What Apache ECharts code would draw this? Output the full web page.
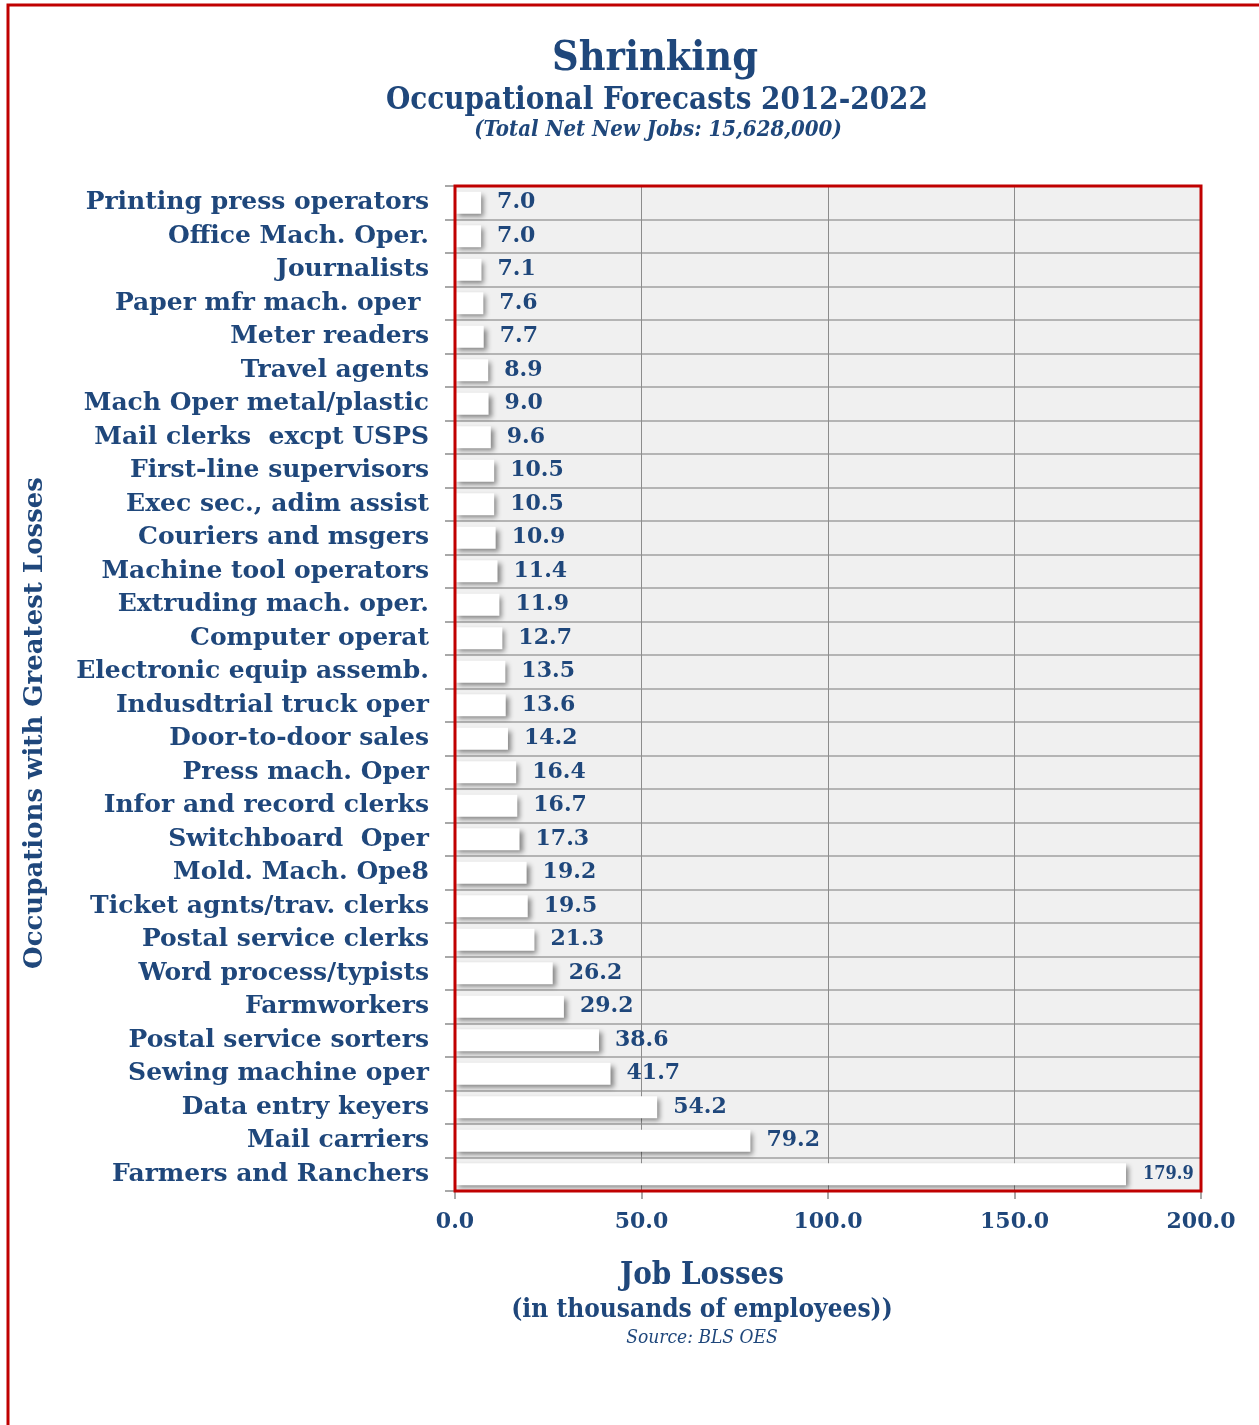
<!DOCTYPE html>
<html>
<head>
<meta charset="utf-8">
<title>Shrinking - Occupational Forecasts 2012-2022</title>
<script src="https://cdn.jsdelivr.net/npm/echarts@6/dist/echarts.min.js"></script>
<style>
  html, body { margin: 0; padding: 0; background: #ffffff; }
  #chart { width: 1259px; height: 1425px; }
</style>
</head>
<body>
<div id="chart"></div>
<script>
// Occupations with the largest projected job losses, top to bottom
const occupations = [
  'Printing press operators', 'Office Mach. Oper.', 'Journalists', 'Paper mfr mach. oper ',
  'Meter readers', 'Travel agents', 'Mach Oper metal/plastic', 'Mail clerks  excpt USPS',
  'First-line supervisors', 'Exec sec., adim assist', 'Couriers and msgers', 'Machine tool operators',
  'Extruding mach. oper.', 'Computer operat', 'Electronic equip assemb.', 'Indusdtrial truck oper',
  'Door-to-door sales', 'Press mach. Oper', 'Infor and record clerks', 'Switchboard  Oper',
  'Mold. Mach. Ope8', 'Ticket agnts/trav. clerks', 'Postal service clerks', 'Word process/typists',
  'Farmworkers', 'Postal service sorters', 'Sewing machine oper', 'Data entry keyers',
  'Mail carriers', 'Farmers and Ranchers'
];

// Job losses, thousands of employees
const jobLosses = [
  7.0, 7.0, 7.1, 7.6, 7.7, 8.9, 9.0, 9.6, 10.5, 10.5,
  10.9, 11.4, 11.9, 12.7, 13.5, 13.6, 14.2, 16.4, 16.7, 17.3,
  19.2, 19.5, 21.3, 26.2, 29.2, 38.6, 41.7, 54.2, 79.2, 179.9
];

const axisMin = 0, axisMax = 200, axisStep = 50;

const NAVY = '#1f477b';
const RED = '#c00000';
const SLAB = '"DejaVu Serif", serif';
const SLAB_C = '"DejaVu Serif Condensed", "DejaVu Serif", serif';

const G = { left: 455, top: 186, right: 1201, bottom: 1191 };

const chart = echarts.init(document.getElementById('chart'), null, { renderer: 'canvas' });

const barData = jobLosses.map((v, i) => {
  const item = { value: v };
  if (i === jobLosses.length - 1) {
    item.label = { fontSize: 18, fontFamily: SLAB_C, distance: 17 };
  }
  return item;
});

chart.setOption({
  animation: false,
  backgroundColor: '#ffffff',
  title: [
    { text: 'Shrinking', left: 650, top: 34, textAlign: 'center',
      textStyle: { fontFamily: SLAB_C, fontWeight: 'bold', fontSize: 41, color: NAVY } },
    { text: 'Occupational Forecasts 2012-2022', left: 652, top: 80, textAlign: 'center',
      textStyle: { fontFamily: SLAB_C, fontWeight: 'bold', fontSize: 31, color: NAVY } },
    { text: '(Total Net New Jobs: 15,628,000)', left: 653, top: 114, textAlign: 'center',
      textStyle: { fontFamily: SLAB_C, fontWeight: 'bold', fontStyle: 'italic', fontSize: 22, color: NAVY } },
    { text: 'Job Losses', left: 697, top: 1255, textAlign: 'center',
      textStyle: { fontFamily: SLAB_C, fontWeight: 'bold', fontSize: 31, color: NAVY } },
    { text: '(in thousands of employees))', left: 697, top: 1292, textAlign: 'center',
      textStyle: { fontFamily: SLAB_C, fontWeight: 'bold', fontSize: 26, color: NAVY } },
    { text: 'Source: BLS OES', left: 697, top: 1324, textAlign: 'center',
      textStyle: { fontFamily: SLAB_C, fontWeight: 'normal', fontStyle: 'italic', fontSize: 19, color: NAVY } }
  ],
  grid: {
    left: G.left, top: G.top, width: G.right - G.left, height: G.bottom - G.top,
    show: true, backgroundColor: '#f0f0f0', borderWidth: 0, containLabel: false
  },
  xAxis: {
    type: 'value', min: axisMin, max: axisMax, interval: axisStep,
    axisLine: { show: false },
    axisTick: { show: true, length: 8, lineStyle: { color: '#8c8c8c', width: 1.5 } },
    axisLabel: {
      margin: 20, color: NAVY, fontFamily: SLAB, fontWeight: 'bold', fontSize: 22,
      formatter: v => v.toFixed(1)
    },
    splitLine: { show: true, lineStyle: { color: '#8c8c8c', width: 1 } }
  },
  yAxis: {
    type: 'category', data: occupations, inverse: true,
    axisLine: { show: false },
    axisTick: { show: true, length: 10, lineStyle: { color: '#8c8c8c', width: 1.5 } },
    axisLabel: {
      margin: 26, color: NAVY, fontFamily: SLAB, fontWeight: 'bold', fontSize: 25,
      padding: [4, 0, 0, 0]
    },
    splitLine: { show: true, lineStyle: { color: '#a0a0a0', width: 1.5 } }
  },
  series: [{
    type: 'bar', data: barData, barWidth: 22,
    itemStyle: {
      color: '#ffffff', shadowColor: 'rgba(0,0,0,0.45)',
      shadowBlur: 5, shadowOffsetX: 3, shadowOffsetY: 3
    },
    label: {
      show: true, position: 'right', distance: 16, color: NAVY,
      fontFamily: SLAB, fontWeight: 'bold', fontSize: 22,
      padding: [6, 0, 0, 0],
      formatter: p => p.value.toFixed(1)
    }
  }],
  graphic: [
    { type: 'rect', z: 100, silent: true,
      shape: { x: G.left, y: G.top, width: G.right - G.left, height: G.bottom - G.top },
      style: { fill: 'none', stroke: RED, lineWidth: 3 } },
    { type: 'polyline', z: 100, silent: true,
      shape: { points: [[8, 1425], [8, 5], [1259, 5]] },
      style: { fill: 'none', stroke: RED, lineWidth: 3 } },
    // vertical axis title
    { type: 'text', z: 100, silent: true, x: 35, y: 723, rotation: Math.PI / 2,
      style: {
        text: 'Occupations with Greatest Losses', fill: NAVY,
        font: 'bold 26px "DejaVu Serif", serif',
        align: 'center', verticalAlign: 'middle'
      } }
  ]
});
</script>
</body>
</html>
